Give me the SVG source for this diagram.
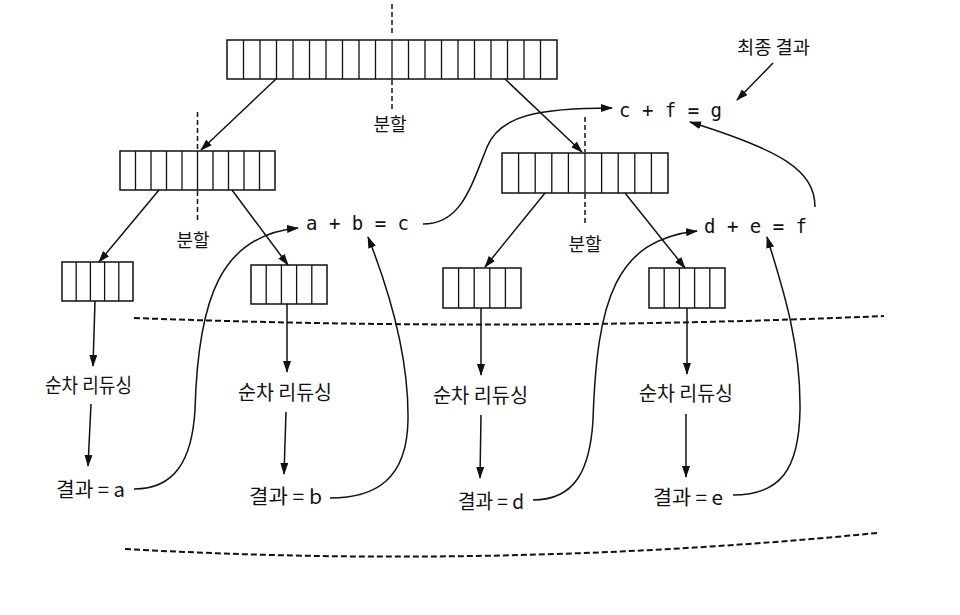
<svg xmlns="http://www.w3.org/2000/svg" width="960" height="615" viewBox="0 0 960 615">
<style>
.cell{fill:#fff;stroke:#111;stroke-width:1.5}
.div{fill:none;stroke:#111;stroke-width:1.3}
.split{fill:none;stroke:#111;stroke-width:1.5;stroke-dasharray:5 3}
.band{fill:none;stroke:#111;stroke-width:2;stroke-dasharray:6 3}
.arr{fill:none;stroke:#111;stroke-width:1.5;marker-end:url(#ah)}
.eq{font-family:"DejaVu Sans Mono","Liberation Mono",monospace;font-size:19px;fill:#111}
.kr{font-family:"Noto Sans CJK KR","Noto Sans",sans-serif;font-size:20px;fill:#111}
.lbl{font-family:"Noto Sans CJK KR","Noto Sans",sans-serif;font-size:18px;fill:#111;text-anchor:middle}
</style>
<defs>
<marker id="ah" markerUnits="userSpaceOnUse" markerWidth="12" markerHeight="8" refX="11" refY="4" orient="auto">
<path d="M0,0 L12,4 L0,8 z" fill="#111"/>
</marker>
</defs>
<rect width="960" height="615" fill="#fff"/>

<g id="bands">
<path class="band" d="M134,318 Q510,332 884,316"/>
<path class="band" d="M125,549 Q500,570 877,533"/>
</g>

<g id="array-top">
<rect class="cell" x="227" y="40" width="330" height="39"/>
<path class="div" d="M243.5,40V79M260,40V79M276.5,40V79M293,40V79M309.5,40V79M326,40V79M342.5,40V79M359,40V79M375.5,40V79M392,40V79M408.5,40V79M425,40V79M441.5,40V79M458,40V79M474.5,40V79M491,40V79M507.5,40V79M524,40V79M540.5,40V79"/>
<path class="split" d="M392,4V33M392,80V110"/>
<text class="lbl" x="390" y="131">분할</text>
</g>

<g id="array-mid-left">
<rect class="cell" x="120" y="151" width="155" height="39"/>
<path class="div" d="M135.5,151V190M151,151V190M166.5,151V190M182,151V190M197.5,151V190M213,151V190M228.5,151V190M244,151V190M259.5,151V190"/>
<path class="split" d="M197.5,112V150M197.5,191V222"/>
<text class="lbl" x="193" y="247">분할</text>
</g>

<g id="array-mid-right">
<rect class="cell" x="502" y="153" width="166" height="40"/>
<path class="div" d="M518.6,153V193M535.2,153V193M551.8,153V193M568.4,153V193M585,153V193M601.6,153V193M618.2,153V193M634.8,153V193M651.4,153V193"/>
<path class="split" d="M585,117V152M585,194V225"/>
<text class="lbl" x="585" y="251">분할</text>
</g>

<g id="array-a">
<rect class="cell" x="62" y="262" width="71" height="39"/>
<path class="div" d="M76.2,262V301M90.4,262V301M104.6,262V301M118.8,262V301"/>
</g>
<g id="array-b">
<rect class="cell" x="251" y="265" width="76" height="39"/>
<path class="div" d="M266.2,265V304M281.4,265V304M296.6,265V304M311.8,265V304"/>
</g>
<g id="array-d">
<rect class="cell" x="443" y="268" width="78" height="40"/>
<path class="div" d="M458.6,268V308M474.2,268V308M489.8,268V308M505.4,268V308"/>
</g>
<g id="array-e">
<rect class="cell" x="649" y="268" width="76" height="40"/>
<path class="div" d="M664.2,268V308M679.4,268V308M694.6,268V308M709.8,268V308"/>
</g>

<g id="reduce-a"><text class="kr" x="45" y="393" textLength="87" lengthAdjust="spacingAndGlyphs">순차 리듀싱</text></g>
<g id="reduce-b"><text class="kr" x="238" y="400" textLength="94" lengthAdjust="spacingAndGlyphs">순차 리듀싱</text></g>
<g id="reduce-d"><text class="kr" x="433" y="403" textLength="95" lengthAdjust="spacingAndGlyphs">순차 리듀싱</text></g>
<g id="reduce-e"><text class="kr" x="639" y="401" textLength="94" lengthAdjust="spacingAndGlyphs">순차 리듀싱</text></g>

<g id="result-a"><text class="kr" x="56" y="497" textLength="69" lengthAdjust="spacingAndGlyphs">결과 = a</text></g>
<g id="result-b"><text class="kr" x="249" y="504" textLength="73" lengthAdjust="spacingAndGlyphs">결과 = b</text></g>
<g id="result-d"><text class="kr" x="458" y="509" textLength="66" lengthAdjust="spacingAndGlyphs">결과 = d</text></g>
<g id="result-e"><text class="kr" x="653" y="505" textLength="70" lengthAdjust="spacingAndGlyphs">결과 = e</text></g>

<g id="sum-c"><text class="eq" x="306" y="230">a + b = c</text></g>
<g id="sum-f"><text class="eq" x="704" y="233">d + e = f</text></g>
<g id="sum-g"><text class="eq" x="619" y="117">c + f = g</text></g>
<g id="final-label"><text class="kr" x="737" y="54" style="font-size:18px" textLength="73" lengthAdjust="spacingAndGlyphs">최종 결과</text></g>

<g id="connectors">
<path class="arr" d="M276,79L201,150"/>
<path class="arr" d="M505,79L582,152"/>
<path class="arr" d="M159,190L99,262"/>
<path class="arr" d="M232,190L288,265"/>
<path class="arr" d="M545,193L485,267"/>
<path class="arr" d="M625,193L685,268"/>
<path class="arr" d="M95,301L93,366"/>
<path class="arr" d="M91,404L88,466"/>
<path class="arr" d="M287,304L287,372"/>
<path class="arr" d="M286,412L284,474"/>
<path class="arr" d="M481,308L481,375"/>
<path class="arr" d="M481,415L480,478"/>
<path class="arr" d="M687,308L687,374"/>
<path class="arr" d="M686,414L686,477"/>
<path class="arr" d="M134,489C175,489 192,460 195,410C198,300 220,235 298,228"/>
<path class="arr" d="M330,498C375,498 407,480 408,420C409,350 385,280 368,237"/>
<path class="arr" d="M533,500C575,500 590,470 593,420C597,300 615,240 697,231"/>
<path class="arr" d="M733,495C780,495 799,470 800,410C801,340 780,280 767,237"/>
<path class="arr" d="M423,224C460,224 470,190 487,147C500,115 540,108 612,108"/>
<path class="arr" d="M815,207C815,170 780,150 690,122"/>
<path class="arr" d="M773,63L737,100"/>
</g>
</svg>
